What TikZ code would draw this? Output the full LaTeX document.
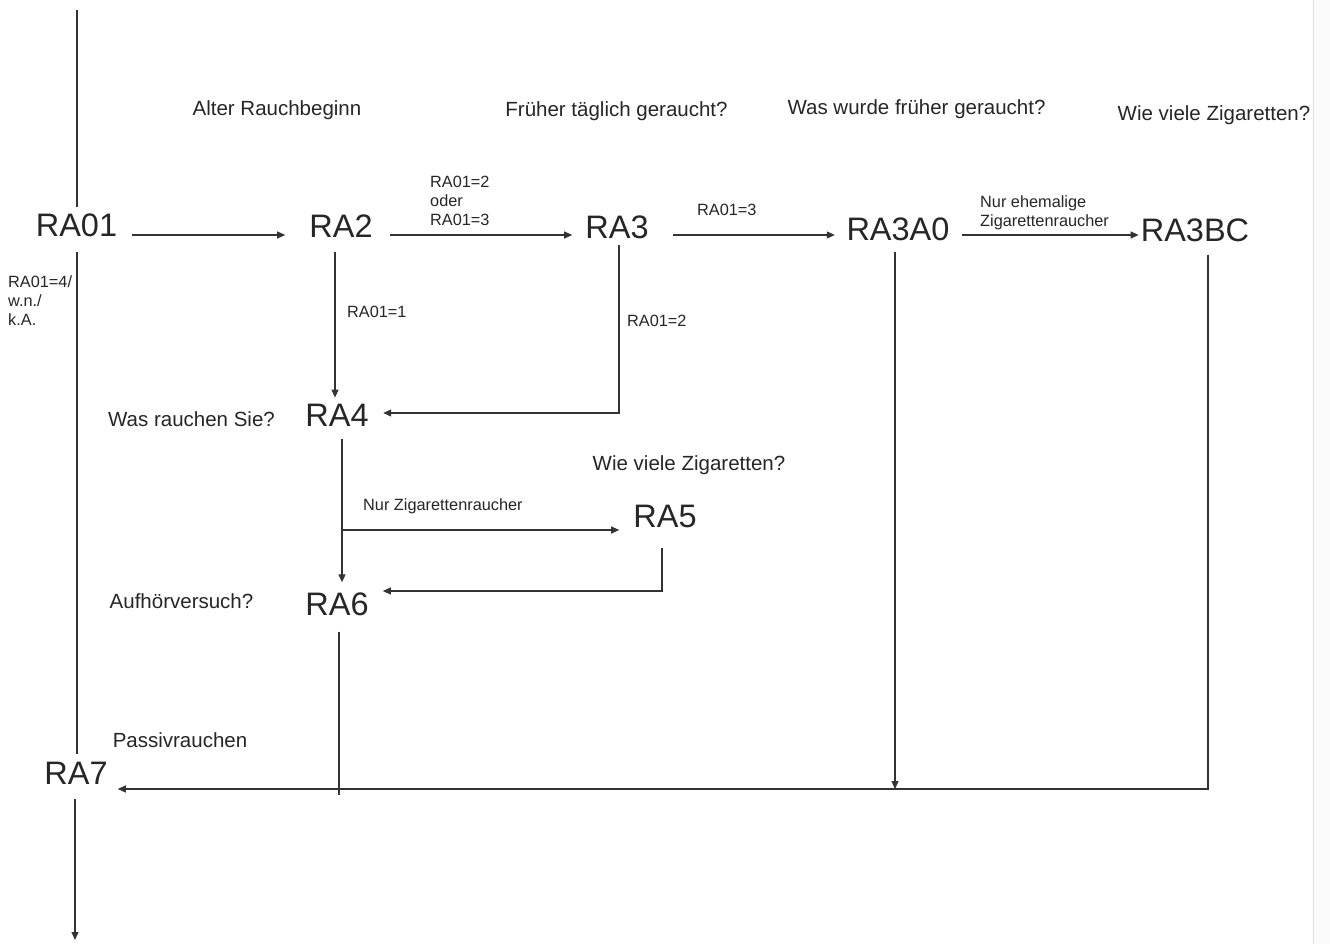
\documentclass[tikz,border=0pt]{standalone}
\usepackage{fontspec}
\setmainfont{Liberation Sans}
\usetikzlibrary{arrows.meta}
\definecolor{ink}{HTML}{262626}
\definecolor{lin}{HTML}{333333}
\begin{document}
\begin{tikzpicture}[x=1pt,y=-1pt,
  big/.style={font=\fontsize{32.5}{39}\selectfont, text=ink, inner sep=0pt},
  ques/.style={font=\fontsize{20.5}{25}\selectfont, text=ink, inner sep=0pt},
  cond/.style={font=\fontsize{16.3}{19}\selectfont, text=ink, inner sep=0pt, anchor=west, align=left},
  conn/.style={draw=lin, line width=1.1pt},
  arr/.style={conn, -{Triangle[length=8pt,width=7pt]}}]
\useasboundingbox (0,0) rectangle (1330,944);
\fill[white] (0,0) rectangle (1330,944);
\fill[gray!3] (1313,0) rectangle (1330,944);
\draw[gray!25, line width=0.8pt] (1313,0) -- (1313,944);

% main nodes
\node[big] (RA01) at (76.5,225) {RA01};
\node[big] (RA2) at (341,226) {RA2};
\node[big] (RA3) at (617,227) {RA3};
\node[big] (RA3A0) at (898,229) {RA3A0};
\node[big] (RA3BC) at (1195,230) {RA3BC};
\node[big] (RA4) at (337,415) {RA4};
\node[big] (RA5) at (665,516) {RA5};
\node[big] (RA6) at (337,604) {RA6};
\node[big] (RA7) at (76,773) {RA7};

% question labels
\node[ques] (q1) at (277,110) {Alter Rauchbeginn};
\node[ques] (q2) at (616.5,111) {Früher täglich geraucht?};
\node[ques] (q3) at (916.5,109) {Was wurde früher geraucht?};
\node[ques] (q4) at (1214,115) {Wie viele Zigaretten?};
\node[ques] (q5) at (191.5,419) {Was rauchen Sie?};
\node[ques] (q6) at (689,465) {Wie viele Zigaretten?};
\node[ques] (q7) at (181.5,601) {Aufhörversuch?};
\node[ques] (q8) at (180,740) {Passivrauchen};

% condition labels
\node[cond] (c1) at (8,301) {RA01=4/\\w.n./\\k.A.};
\node[cond] (c2) at (430,201) {RA01=2\\oder\\RA01=3};
\node[cond] (c3) at (697,210) {RA01=3};
\node[cond] (c4) at (980,212.5) {Nur ehemalige\\Zigarettenraucher};
\node[cond] (c5) at (347,312) {RA01=1};
\node[cond] (c6) at (627,321) {RA01=2};
\node[cond] (c7) at (363,506) {Nur Zigarettenraucher};

% free ends
\coordinate (top) at (77,10);
\coordinate (bot) at (75,940);
\coordinate (br) at (343,530);
\coordinate (r6end) at (339,795);
\coordinate (j1) at (895,789);

% left spine
\draw[conn] (top) -- ([shift={(0.5,-6)}]RA01.north);
\draw[conn] ([shift={(0.5,15)}]RA01.south) -- ([shift={(1,-8)}]RA7.north);
\draw[arr] ([shift={(-1,15)}]RA7.south) -- (bot);

% top row
\draw[arr] ([shift={(15,10)}]RA01.east) -- ([shift={(-24,9)}]RA2.west);
\draw[arr] ([shift={(17,9)}]RA2.east) -- ([shift={(-13,8)}]RA3.west);
\draw[arr] ([shift={(24,8)}]RA3.east) -- ([shift={(-11.5,6)}]RA3A0.west);
\draw[arr] ([shift={(12.5,6)}]RA3A0.east) -- ([shift={(-2,5)}]RA3BC.west);

% middle
\draw[arr] ([shift={(-6,14)}]RA2.south) -- ([shift={(-2,-6)}]RA4.north);
\draw[arr] ([shift={(2,6)}]RA3.south) |- ([shift={(14.4,-2)}]RA4.east);
\draw[arr] ([shift={(5,13)}]RA4.south) -- ([shift={(5,-10)}]RA6.north);
\draw[arr] (br) -- ([shift={(-14,14)}]RA5.west);
\draw[arr] ([shift={(-3,20)}]RA5.south) |- ([shift={(14,-13)}]RA6.east);
\draw[conn] ([shift={(2,16)}]RA6.south) -- (r6end);

% bottom
\draw[arr] ([shift={(-3,11)}]RA3A0.south) -- (j1);
\draw[arr] ([shift={(13,13)}]RA3BC.south) |- ([shift={(10,16)}]RA7.east);
\end{tikzpicture}
\end{document}
